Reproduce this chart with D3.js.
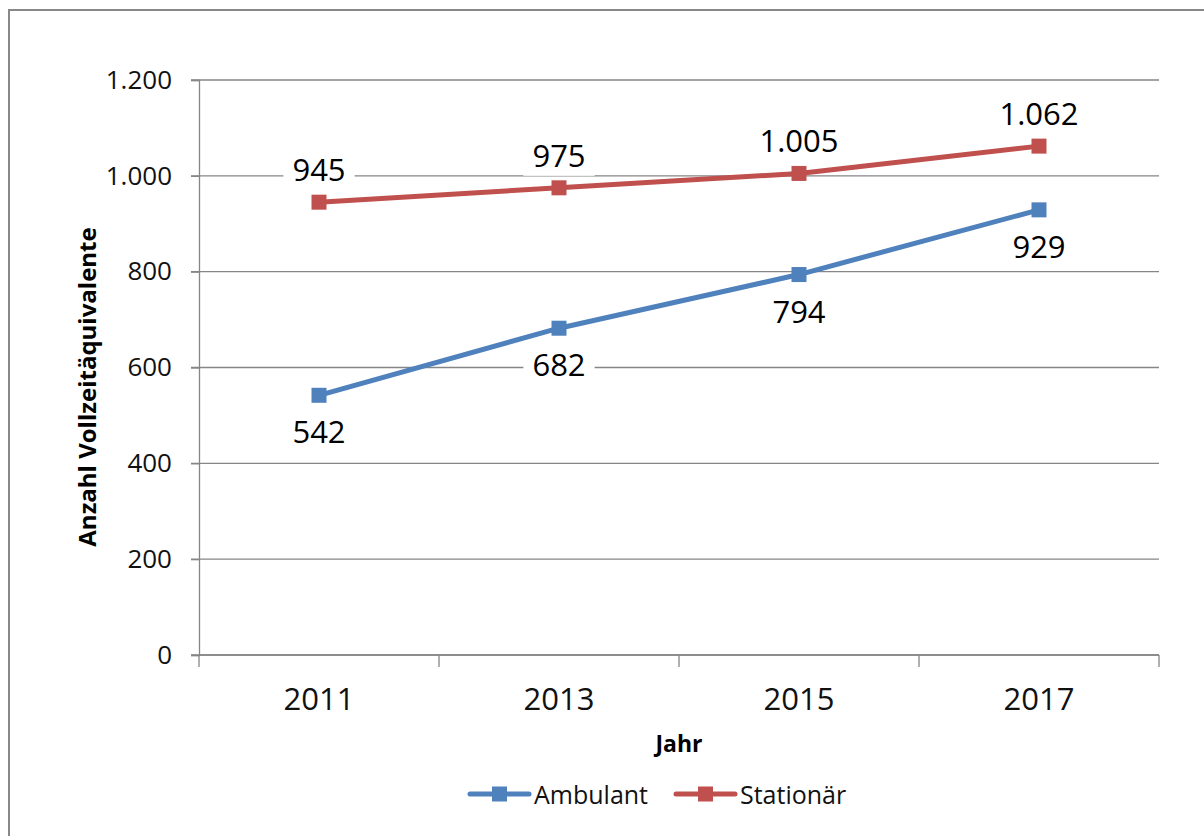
<!DOCTYPE html>
<html>
<head>
<meta charset="utf-8">
<script src="https://cdn.jsdelivr.net/npm/d3@7"></script>
<style>
html,body{margin:0;padding:0;background:#fff;}
svg{display:block;font-family:"Open Sans","Noto Sans",sans-serif;}
</style>
</head>
<body>
<svg id="chart" width="1204" height="836"></svg>
<script>
const years = ["2011", "2013", "2015", "2017"];
const ambulant = [542, 682, 794, 929];
const stationaer = [945, 975, 1005, 1062];
const yTicks = [0, 200, 400, 600, 800, 1000, 1200];
const seriesNames = ["Ambulant", "Stationär"];
const colors = ["#4F81BD", "#C0504D"];
const yTitle = "Anzahl Vollzeitäquivalente";
const xTitle = "Jahr";

const de = d3.formatLocale({decimal: ",", thousands: ".", grouping: [3], currency: ["", " €"]});
const fmt = de.format(",d");

const svg = d3.select("#chart");
const gridColor = "#868686";
const ff = "'Open Sans','Noto Sans',sans-serif";

// frame
svg.append("rect").attr("x", 9).attr("y", 10).attr("width", 1300).attr("height", 900)
  .attr("fill", "none").attr("stroke", "#888").attr("stroke-width", 2);

const x = d3.scaleBand().domain(years).range([199, 1159]).padding(0);
const y = d3.scaleLinear().domain([0, 1200]).range([655, 80]);

// gridlines
svg.append("g").selectAll("line").data(yTicks).join("line")
  .attr("x1", 191).attr("x2", 1159)
  .attr("y1", d => y(d)).attr("y2", d => y(d))
  .attr("stroke", gridColor).attr("stroke-width", 1.3);

// y axis
const yAxis = svg.append("g").attr("transform", "translate(199,0)")
  .call(d3.axisLeft(y).tickValues(yTicks).tickFormat(fmt).tickSize(8).tickPadding(8));
yAxis.select(".domain").attr("stroke", gridColor).attr("stroke-width", 1.3);
yAxis.selectAll(".tick line").attr("stroke", gridColor).attr("stroke-width", 1.3);
yAxis.selectAll(".tick text").attr("font-size", 26).attr("fill", "#111")
  .attr("font-family", ff).attr("dx", -11);

// x axis
const xAxis = svg.append("g").attr("transform", "translate(0,655)")
  .call(d3.axisBottom(x).tickSize(0).tickPadding(33));
xAxis.select(".domain").remove();
svg.append("line").attr("x1", 199).attr("x2", 1159).attr("y1", 655).attr("y2", 655)
  .attr("stroke", gridColor).attr("stroke-width", 1.3);
const boundaries = years.map(d => x(d)).concat([x(years[years.length - 1]) + x.bandwidth()]);
svg.append("g").selectAll("line").data(boundaries).join("line")
  .attr("x1", d => d).attr("x2", d => d).attr("y1", 655).attr("y2", 667)
  .attr("stroke", gridColor).attr("stroke-width", 1.3);
xAxis.selectAll(".tick text").attr("font-size", 31).attr("fill", "#111")
  .attr("font-family", ff);

// axis titles
svg.append("text").attr("transform", "translate(86,387) rotate(-90)")
  .attr("text-anchor", "middle").attr("font-weight", "bold").attr("font-size", 24)
  .attr("dominant-baseline", "central")
  .attr("fill", "#000").text(yTitle);
svg.append("text").attr("x", 679).attr("y", 743).attr("text-anchor", "middle")
  .attr("dominant-baseline", "central")
  .attr("font-weight", "bold").attr("font-size", 23).attr("fill", "#000").text(xTitle);

const cx = d => x(d) + x.bandwidth() / 2;
const seriesData = [ambulant, stationaer];
const line = d3.line().x(d => cx(d.year)).y(d => y(d.value));

seriesData.forEach((vals, i) => {
  const pts = years.map((yr, j) => ({year: yr, value: vals[j]}));
  svg.append("path").datum(pts).attr("d", line).attr("fill", "none")
    .attr("stroke", colors[i]).attr("stroke-width", 5).attr("stroke-linejoin", "round");
  svg.append("g").selectAll("rect").data(pts).join("rect")
    .attr("x", d => cx(d.year) - 7.5).attr("y", d => y(d.value) - 7.5)
    .attr("width", 15).attr("height", 15).attr("fill", colors[i]);
});

// data labels with white background
function addLabel(px, py, txt) {
  const g = svg.append("g");
  const bg = g.append("rect").attr("fill", "#fff");
  const t = g.append("text").attr("x", px).attr("y", py).attr("text-anchor", "middle")
    .attr("dominant-baseline", "central").attr("font-size", 31).attr("fill", "#000").text(txt);
  const bb = t.node().getBBox();
  bg.attr("x", bb.x - 9).attr("y", bb.y).attr("width", bb.width + 18).attr("height", bb.height);
}
years.forEach((yr, j) => {
  addLabel(cx(yr), y(stationaer[j]) - 33, fmt(stationaer[j]));
  addLabel(cx(yr), y(ambulant[j]) + 36, fmt(ambulant[j]));
});

// legend
const legendItems = [
  {name: seriesNames[0], color: colors[0], x0: 470},
  {name: seriesNames[1], color: colors[1], x0: 676}
];
legendItems.forEach(it => {
  const ly = 794;
  svg.append("line").attr("x1", it.x0).attr("x2", it.x0 + 59).attr("y1", ly).attr("y2", ly)
    .attr("stroke", it.color).attr("stroke-width", 5).attr("stroke-linecap", "round");
  svg.append("rect").attr("x", it.x0 + 22).attr("y", ly - 7.5).attr("width", 15).attr("height", 15)
    .attr("fill", it.color);
  svg.append("text").attr("x", it.x0 + 64).attr("y", ly).attr("dominant-baseline", "central")
    .attr("font-size", 25).attr("fill", "#111").text(it.name);
});
</script>
</body>
</html>
